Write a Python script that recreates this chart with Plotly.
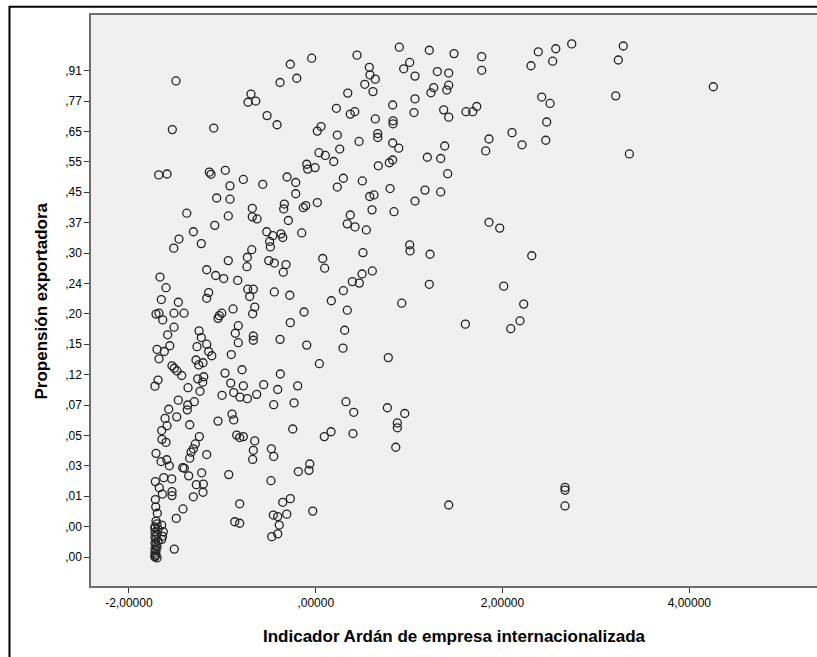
import plotly.graph_objects as go

# Y axis of the original is a transformed (non-linear) scale; values below are
# expressed in that scale's units (0 = lowest labelled tick, 16 = ",91").
y_tick_labels = [",00", ",00", ",01", ",03", ",05", ",07", ",12", ",15", ",20",
                 ",24", ",30", ",37", ",45", ",55", ",65", ",77", ",91"]
x_tick_values = [-2, 0, 2, 4]
x_tick_labels = ["-2,00000", ",00000", "2,00000", "4,00000"]

# upper-left region
ardan_a = [-0.272,-0.203,-0.382,-1.496,-0.693,-0.725,-0.642,-0.521,-0.414,-1.535,-1.092,-1.681,-1.592,-1.139,-1.121,-0.968,-0.775,-0.918,-0.567,-0.307,-0.214,-0.214,-1.060,-0.918,-0.336,-0.343,-0.679,-1.381,-0.936,-0.679,-0.628,-0.293,-1.081,-1.310,-1.464,-1.520,-1.225,-0.525,-0.460,-0.372,-0.353,-0.493,-0.486,-0.685,-0.732,-0.736,-0.936,-0.503,-0.443,-0.318,-0.347,-1.167,-1.071,-0.985,-0.835,-1.667,-1.603,-1.653,-1.471,-1.146,-1.167,-0.728,-0.668,-0.707,-0.443,-0.278]
prop_a = [16.21,15.75,15.61,15.66,15.23,14.96,15.00,14.52,14.22,14.06,14.11,12.57,12.60,12.66,12.59,12.72,12.42,12.21,12.26,12.50,12.32,11.95,11.81,11.77,11.61,11.45,11.47,11.31,11.22,11.19,11.12,11.07,10.91,10.70,10.46,10.16,10.31,10.70,10.57,10.63,10.51,10.38,10.20,10.11,9.86,9.55,9.75,9.75,9.67,9.62,9.37,9.45,9.26,9.16,9.10,9.21,8.86,8.47,8.38,8.70,8.51,8.81,8.81,8.57,8.72,8.61]

# lower-left region
ardan_b = [-1.710,-1.678,-1.638,-1.517,-1.410,-1.032,-1.006,-1.046,-0.885,-0.653,-0.675,-1.517,-1.585,-1.563,-1.699,-1.621,-1.678,-1.249,-1.225,-1.167,-1.271,-1.146,-1.113,-0.829,-0.861,-0.829,-0.668,-0.668,-0.382,-0.272,-0.904,-1.539,-1.514,-1.485,-1.435,-1.688,-1.721,-1.282,-1.253,-1.207,-1.263,-1.199,-1.210,-1.367,-1.239,-0.971,-0.789,-0.379,-0.910,-0.775,-0.557,-0.878,-0.811,-0.732,-0.632,-1.003,-0.407,-0.193,-0.450,-0.232,-1.471,-1.370,-1.375,-1.300,-1.574,-1.488,-1.613,-1.592,-1.649,-1.646,-1.603,-1.349,-1.046,-0.896,-0.878,-0.246,-0.846,-0.814,-0.775,-0.653,-0.668,-0.675,-0.475,-0.450,-1.246,-1.289,-1.310,-1.335,-1.349,-1.167,-1.710,-1.656,-1.595,-1.567,-1.424,-1.407,-1.360,-1.221,-0.931,-0.479,-0.186,-1.717,-1.627,-1.542,-1.675,-1.642,-1.539,-1.539,-1.278,-1.203,-1.207,-1.310,-1.717,-1.713,-1.696,-1.421,-1.493,-0.814,-0.867,-0.814,-0.454,-0.407,-0.353,-0.272,-0.310,-0.390,-0.407,-0.471,-1.514]
prop_b = [7.99,8.02,7.80,8.02,8.02,7.94,8.02,7.85,8.16,8.22,8.00,7.56,7.31,6.95,6.83,6.76,6.52,7.44,7.22,7.00,6.92,6.76,6.62,7.61,7.36,7.05,7.27,7.13,7.16,7.71,6.66,6.29,6.21,6.12,5.97,5.82,5.62,6.48,6.32,6.39,5.86,5.93,5.75,5.57,5.45,6.05,6.16,6.02,5.72,5.63,5.67,5.41,5.26,5.21,5.35,5.32,5.51,5.63,5.01,5.07,5.16,5.00,4.84,5.11,4.86,4.61,4.56,4.32,4.16,3.87,3.77,4.35,4.47,4.70,4.51,4.21,4.01,3.93,3.96,3.82,3.51,3.21,3.56,3.31,3.96,3.72,3.56,3.45,3.25,3.37,3.41,3.14,3.20,3.00,2.94,2.92,2.67,2.77,2.71,2.51,2.81,2.48,2.61,2.57,2.28,2.07,2.15,2.02,2.38,2.40,2.13,1.98,1.89,1.65,1.44,1.58,1.27,1.75,1.16,1.11,1.38,1.33,1.80,1.92,1.41,1.05,0.76,0.67,0.26]

# dense cluster near the minimum of the indicator
ardan_c = [-1.649,-1.632,-1.649,-1.710,-1.699,-1.721,-1.688,-1.721,-1.699,-1.721,-1.710,-1.688,-1.721,-1.710,-1.699,-1.721,-1.710,-1.721,-1.710,-1.721,-1.699,-1.721,-1.721,-1.640]
prop_c = [1.05,0.83,0.58,1.18,1.09,0.99,0.92,0.82,0.76,0.66,0.59,0.53,0.46,0.39,0.33,0.26,0.20,0.13,0.07,0.00,-0.03,0.03,0.95,0.68]

# upper-middle region
ardan_d = [-0.043,0.442,0.895,1.216,1.481,1.777,1.777,2.383,2.570,2.305,2.537,0.574,0.581,0.638,0.525,0.613,1.006,0.942,1.063,1.302,1.424,1.263,1.234,1.424,1.403,0.343,0.221,0.370,0.418,0.638,0.824,0.828,0.828,1.063,1.052,1.370,1.424,1.609,1.681,1.724,2.420,2.509,2.473,2.463,2.102,2.209,1.855,1.820,0.017,0.057,0.231,0.257,0.464,0.664,0.664,0.824,0.889,0.035,0.103,0.193,-0.096,-0.086,-0.007,0.670,0.788,0.824,1.195,1.338,1.381,1.413,0.296,0.231,0.499,0.796,1.170,1.338,1.063,0.578,0.624,0.603,0.838,0.017,-0.133,-0.107,0.370,0.338,0.421,0.542,-0.150,1.855,1.970,1.006,1.010,1.224,0.506,0.075,0.096,0.496,0.606,0.392,0.467,0.296,0.167,1.216,2.013,2.313,0.921,2.227]
prop_d = [16.41,16.51,16.77,16.67,16.56,16.46,16.01,16.62,16.72,16.16,16.31,16.11,15.86,15.72,15.55,15.31,16.27,16.06,15.82,15.97,15.92,15.44,15.27,15.52,15.36,15.26,14.76,14.57,14.65,14.41,14.87,14.35,14.25,15.07,14.62,14.71,14.47,14.65,14.65,14.82,15.13,14.92,14.31,13.71,13.96,13.56,13.75,13.36,14.01,14.16,13.88,13.42,13.67,13.93,13.80,13.62,13.45,13.30,13.21,13.01,12.92,12.76,12.81,12.87,12.97,13.06,13.15,13.11,13.52,12.61,12.46,12.17,12.37,12.12,12.07,12.01,11.71,11.86,11.91,11.42,11.36,11.66,11.49,11.56,11.25,10.96,10.86,10.76,10.66,11.01,10.82,10.27,10.07,9.96,10.01,9.82,9.50,9.31,9.41,9.06,9.01,8.76,8.43,8.97,8.91,9.91,8.35,8.32]

# lower-middle and right regions
ardan_e = [-0.125,0.338,0.310,0.292,-0.096,0.039,0.777,1.602,2.187,2.088,0.324,0.407,0.767,0.953,0.874,0.874,0.857,0.164,0.092,0.399,-0.064,-0.072,-0.032,1.424,2.741,3.293,3.240,3.212,4.257,3.358,2.669,2.669,2.669]
prop_e = [8.06,8.12,7.46,6.87,6.97,6.36,6.56,7.66,7.77,7.51,5.11,4.76,4.91,4.72,4.41,4.25,3.61,4.12,3.96,4.06,3.06,2.85,1.51,1.71,16.88,16.81,16.35,15.17,15.47,13.26,2.29,2.20,1.68]

groups = [(ardan_a, prop_a), (ardan_b, prop_b), (ardan_c, prop_c), (ardan_d, prop_d), (ardan_e, prop_e)]
for gx, gy in groups:
    assert len(gx) == len(gy), (len(gx), len(gy))

ardan = ardan_a + ardan_b + ardan_c + ardan_d + ardan_e
propension = prop_a + prop_b + prop_c + prop_d + prop_e

fig = go.Figure()
fig.add_trace(go.Scatter(
    x=ardan, y=propension, mode="markers",
    marker=dict(symbol="circle-open", size=8, color="#222222", line=dict(width=1.3)),
    hoverinfo="skip",
))

fig.update_layout(
    width=817, height=657,
    margin=dict(l=91, r=0, t=15, b=71),
    paper_bgcolor="white", plot_bgcolor="#f0f0f0",
    showlegend=False,
    font=dict(family="Liberation Sans, Arial, sans-serif", color="black", size=12),
)
fig.update_xaxes(
    range=[-2.406, 5.367], tickvals=x_tick_values, ticktext=x_tick_labels,
    ticks="outside", ticklen=5, tickcolor="#333333", tickwidth=1,
    showgrid=False, zeroline=False, showline=True, linecolor="#6e6e6e",
    linewidth=1.5, mirror=True, tickfont=dict(size=12),
)
fig.update_yaxes(
    range=[-0.954, 17.83], tickvals=list(range(len(y_tick_labels))), ticktext=y_tick_labels,
    ticks="outside", ticklen=5, tickcolor="#333333", tickwidth=1,
    showgrid=False, zeroline=False, showline=True, linecolor="#6e6e6e",
    linewidth=1.5, mirror=False, tickfont=dict(size=12),
)
fig.add_annotation(text="<b>Indicador Ardán de empresa internacionalizada</b>",
                   xref="paper", yref="paper", x=0.5, y=-0.0876, xanchor="center",
                   yanchor="middle", showarrow=False, font=dict(size=17))
fig.add_annotation(text="<b>Propensión exportadora</b>", textangle=-90,
                   xref="paper", yref="paper", x=-0.0675, y=0.5, xanchor="center",
                   yanchor="middle", showarrow=False, font=dict(size=17))
fig.add_shape(type="rect", xref="paper", yref="paper", x0=-0.1123, x1=1.2,
              y0=-0.3, y1=1.0143, line=dict(color="black", width=2),
              fillcolor="rgba(0,0,0,0)", layer="above")

fig.write_html("out.html")
